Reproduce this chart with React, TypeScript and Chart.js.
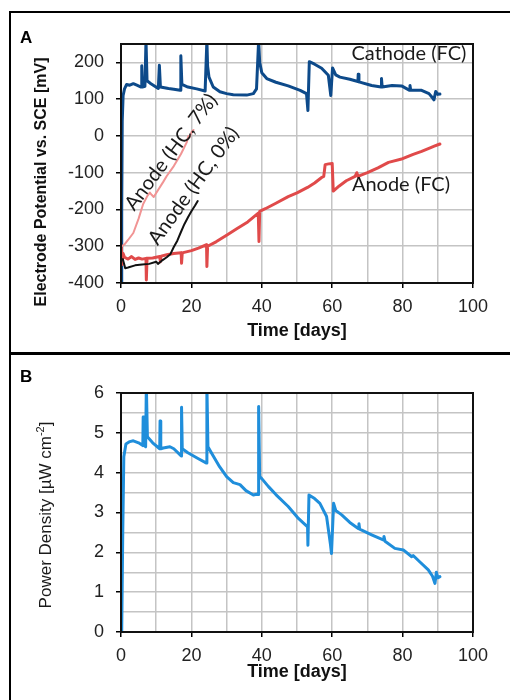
import { useEffect, useRef } from 'react';
import { Chart, registerables } from 'chart.js';

Chart.register(...registerables);

// ---------- DATA ----------
const xGridDays = [0, 10, 20, 30, 40, 50, 60, 70, 80, 90, 100];
const xTickLabels = [0, 20, 40, 60, 80, 100];
const potentialGrid = [-400, -300, -200, -100, 0, 100, 200];
const potentialTickLabels = [-400, -300, -200, -100, 0, 100, 200];
const powerGrid = [0, 0.5, 1, 1.5, 2, 2.5, 3, 3.5, 4, 4.5, 5, 5.5, 6];
const powerTickLabels = [0, 1, 2, 3, 4, 5, 6];

const cathodeDays = [0.1, 0.2, 0.35, 0.6, 1.0, 1.6, 2.5, 3.5, 4.5, 5.7, 5.9, 6.1, 6.8, 7.1, 7.4, 8.5, 10.6, 10.9, 11.2, 13.5, 15, 16.8, 17.0, 17.3, 19, 21.5, 23.9, 24.4, 24.6, 25.0, 26.2, 28.1, 30, 31.9, 35.7, 37.6, 38.5, 39.1, 39.4, 40.0, 41.4, 44, 47.5, 50.9, 52.7, 53.1, 53.5, 55, 57, 58.9, 59.6, 60.1, 61, 62.2, 65, 67.3, 67.4, 67.6, 71.2, 73.9, 74.0, 74.2, 77, 79.7, 82.0, 82.1, 82.3, 85.4, 87.5, 88.3, 88.9, 89.4, 90, 90.6];
const cathodeMv = [-400, -200, 40, 110, 128, 140, 138, 142, 138, 133, 191, 133, 135, 260, 150, 142, 129, 192, 133, 129, 127, 124, 218, 140, 133, 128, 122, 260, 190, 160, 133, 120, 115, 112, 111, 115, 128, 260, 200, 172, 156, 146, 136, 124, 115, 69, 202, 195, 184, 165, 110, 185, 166, 160, 154, 148, 168, 147, 137, 133, 156, 133, 137, 136, 124, 137, 124, 124, 115, 106, 98, 121, 113, 114];

const anodeFcDays = [0.1, 0.3, 0.6, 1, 2, 3, 4, 5, 6, 7.1, 7.2, 7.4, 9, 10, 11, 11.2, 11.4, 13, 15, 17.1, 17.2, 17.4, 20, 22, 24.3, 24.4, 24.6, 27, 30, 33, 36, 39, 39.2, 39.4, 41, 44, 47.5, 50, 53, 55, 57, 57.6, 58, 59, 60, 60.3, 62, 64, 66.5, 67, 67.3, 70, 73, 76, 80, 83, 85.4, 88, 89, 90.6];
const anodeFcMv = [-300, -350, -320, -330, -335, -328, -336, -332, -335, -333, -392, -333, -332, -330, -328, -342, -327, -323, -320, -318, -346, -318, -312, -305, -296, -355, -300, -288, -270, -252, -234, -210, -287, -205, -198, -183, -165, -155, -140, -128, -113, -110, -78, -76, -75, -150, -136, -122, -110, -100, -110, -100, -87, -72, -62, -50, -42, -32, -28, -22];

const anodeHc7Days = [0.2, 1, 2, 3.5, 5, 6.3, 7.5, 8.2, 8.7, 9.3, 10, 12, 13, 15, 17, 18.7, 19, 19.2, 19.5, 20, 20.6];
const anodeHc7Mv = [-300, -295, -283, -264, -225, -185, -163, -154, -160, -166, -155, -125, -109, -82, -50, -17, -5, 0, -4, 10, 16];

const anodeHc0Days = [0.5, 0.8, 1.2, 2, 4, 6, 8, 10, 10.5, 11.5, 13, 14, 15, 16, 17, 18, 19, 20, 21, 21.8];
const anodeHc0Mv = [-335, -345, -360, -358, -352, -350, -348, -342, -348, -340, -330, -322, -302, -285, -262, -240, -222, -205, -190, -177];

const powerDays = [0.2, 0.5, 0.8, 1.4, 2.5, 3.5, 5, 6.2, 6.3, 6.5, 7, 7.2, 7.5, 9, 11, 11.1, 11.3, 12, 13.9, 15, 17.1, 17.2, 17.4, 19, 22, 24.3, 24.4, 24.7, 26, 28, 30, 31.9, 33.8, 35.5, 37.6, 38.5, 39, 39.1, 39.4, 40, 41.9, 44, 47.5, 50.4, 53, 53.1, 53.4, 55, 56.5, 58.4, 59.5, 59.8, 60.4, 61, 62.7, 65, 67.4, 67.6, 67.8, 71.2, 74.5, 74.7, 75, 77.8, 80.2, 82.6, 83, 85, 87.3, 88.5, 89.2, 89.6, 90, 90.6];
const powerUw = [0, 2.5, 4.4, 4.72, 4.78, 4.8, 4.75, 4.68, 5.4, 4.7, 4.65, 6.2, 4.9, 4.75, 4.6, 5.3, 4.6, 4.62, 4.65, 4.6, 4.42, 5.64, 4.6, 4.5, 4.35, 4.24, 6.2, 4.65, 4.45, 4.15, 3.9, 3.75, 3.7, 3.55, 3.44, 3.46, 3.45, 5.66, 3.9, 3.85, 3.65, 3.45, 3.15, 2.85, 2.64, 2.18, 3.44, 3.35, 3.23, 2.9, 2.2, 1.97, 3.23, 3.05, 2.94, 2.75, 2.6, 2.72, 2.58, 2.44, 2.31, 2.4, 2.28, 2.1, 2.06, 1.89, 1.92, 1.75, 1.56, 1.4, 1.22, 1.5, 1.36, 1.39];

// ---------- helpers ----------
const pts = (xs: number[], ys: number[]) => xs.map((x, i) => ({ x, y: ys[i] }));

const TICK_FONT = { family: 'Liberation Sans, Arial, sans-serif', size: 18 };
const GRID = '#c4c4c4';

function xScale(height: number) {
  return {
    type: 'linear' as const,
    min: 0,
    max: 100,
    afterBuildTicks: (s: any) => {
      s.ticks = xGridDays.map((v) => ({ value: v }));
    },
    ticks: {
      autoSkip: false,
      maxRotation: 0,
      padding: 8,
      color: '#222',
      font: TICK_FONT,
      callback: (v: any) => (xTickLabels.includes(Number(v)) ? String(v) : ''),
    },
    grid: {
      display: true,
      drawOnChartArea: true,
      color: GRID,
      lineWidth: 1.5,
      tickLength: 5,
      tickWidth: 1.5,
      tickColor: (c: any) => (xTickLabels.includes(c.tick?.value) ? '#000' : 'rgba(0,0,0,0)'),
    },
    border: { display: true, color: '#000', width: 2 },
    afterFit: (s: any) => {
      s.height = height;
    },
  };
}

function yScale(min: number, max: number, grid: number[], labels: number[]) {
  return {
    type: 'linear' as const,
    min,
    max,
    afterBuildTicks: (s: any) => {
      s.ticks = grid.map((v) => ({ value: v }));
    },
    ticks: {
      autoSkip: false,
      padding: 12,
      color: '#222',
      font: TICK_FONT,
      callback: (v: any) => (labels.includes(Number(v)) ? String(v) : ''),
    },
    grid: {
      display: true,
      drawOnChartArea: true,
      color: GRID,
      lineWidth: 1.5,
      tickLength: 5,
      tickWidth: 1.5,
      tickColor: (c: any) => (labels.includes(c.tick?.value) ? '#000' : 'rgba(0,0,0,0)'),
    },
    border: { display: true, color: '#000', width: 2 },
    afterFit: (s: any) => {
      s.width = 121;
    },
  };
}

const framePlugin = {
  id: 'frame',
  afterDatasetsDraw(chart: any) {
    const { ctx, chartArea: a } = chart;
    ctx.save();
    ctx.strokeStyle = '#111';
    ctx.lineWidth = 2;
    ctx.strokeRect(a.left, a.top, a.right - a.left, a.bottom - a.top);
    ctx.restore();
  },
};

function txt(ctx: CanvasRenderingContext2D, s: string, x: number, y: number, font: string, align: CanvasTextAlign = 'center', rot = 0, color = '#1a1a1a') {
  ctx.save();
  ctx.translate(x, y);
  if (rot) ctx.rotate((rot * Math.PI) / 180);
  ctx.font = font;
  ctx.fillStyle = color;
  ctx.textAlign = align;
  ctx.textBaseline = 'middle';
  ctx.fillText(s, 0, 0);
  ctx.restore();
}

const ANNOT = '20px Lato, "Open Sans", sans-serif';

const textA = {
  id: 'textA',
  afterDraw(chart: any) {
    const { ctx, scales } = chart;
    const X = (v: number) => scales.x.getPixelForValue(v);
    const Y = (v: number) => scales.y.getPixelForValue(v);
    txt(ctx, 'A', 20, 38, 'bold 17px "Liberation Sans", Arial, sans-serif', 'left', 0, '#000');
    txt(ctx, 'Electrode Potential vs. SCE [mV]', 42, 182, 'bold 16px "Liberation Sans", Arial, sans-serif', 'center', -90, '#111');
    txt(ctx, 'Time [days]', 297, 331, 'bold 18px "Liberation Sans", Arial, sans-serif', 'center', 0, '#111');
    txt(ctx, 'Cathode (FC)', X(81.8), Y(224), ANNOT, 'center');
    txt(ctx, 'Anode (FC)', X(65.6), Y(-131), ANNOT, 'left');
    txt(ctx, 'Anode (HC, 7%)', X(14.2), Y(-44), ANNOT, 'center', -53);
    txt(ctx, 'Anode (HC, 0%)', X(20.6), Y(-136), ANNOT, 'center', -54);
  },
};

const textB = {
  id: 'textB',
  afterDraw(chart: any) {
    const { ctx } = chart;
    txt(ctx, 'B', 20, 25, 'bold 17px "Liberation Sans", Arial, sans-serif', 'left', 0, '#000');
    txt(ctx, 'Time [days]', 297, 320, 'bold 18px "Liberation Sans", Arial, sans-serif', 'center', 0, '#111');
    const main = 'Power Density [µW cm';
    const sup = '-2';
    const end = ']';
    const f1 = '17px "Liberation Sans", Arial, sans-serif';
    const f2 = '11px "Liberation Sans", Arial, sans-serif';
    ctx.save();
    ctx.translate(45, 163);
    ctx.rotate(-Math.PI / 2);
    ctx.fillStyle = '#1a1a1a';
    ctx.textBaseline = 'alphabetic';
    ctx.textAlign = 'left';
    ctx.font = f1;
    const w1 = ctx.measureText(main).width;
    const w3 = ctx.measureText(end).width;
    ctx.font = f2;
    const w2 = ctx.measureText(sup).width;
    let x0 = -(w1 + w2 + w3) / 2;
    const base = 6;
    ctx.font = f1;
    ctx.fillText(main, x0, base);
    x0 += w1;
    ctx.font = f2;
    ctx.fillText(sup, x0, base - 7);
    x0 += w2;
    ctx.font = f1;
    ctx.fillText(end, x0, base);
    ctx.restore();
  },
};

const lineDs = (label: string, data: any[], color: string, width: number) => ({
  label,
  data,
  borderColor: color,
  backgroundColor: color,
  borderWidth: width,
  pointRadius: 0,
  tension: 0,
  borderJoinStyle: 'round' as const,
  borderCapStyle: 'round' as const,
});

export default function App() {
  const refA = useRef<HTMLCanvasElement>(null);
  const refB = useRef<HTMLCanvasElement>(null);

  useEffect(() => {
    const common = {
      responsive: false,
      animation: false as const,
      plugins: { legend: { display: false }, tooltip: { enabled: false } },
    };
    const chartA = new Chart(refA.current!, {
      type: 'line',
      data: {
        datasets: [
          lineDs('Anode (HC, 0%)', pts(anodeHc0Days, anodeHc0Mv), '#111111', 2),
          lineDs('Anode (HC, 7%)', pts(anodeHc7Days, anodeHc7Mv), '#f19494', 2),
          lineDs('Anode (FC)', pts(anodeFcDays, anodeFcMv), '#e04a4a', 3),
          lineDs('Cathode (FC)', pts(cathodeDays, cathodeMv), '#0d4a8a', 3),
        ],
      },
      options: {
        ...common,
        layout: { padding: { left: 0, top: 44, right: 37, bottom: 0 } },
        scales: {
          x: xScale(69),
          y: yScale(-400, 250, potentialGrid, potentialTickLabels),
        },
      } as any,
      plugins: [framePlugin, textA],
    });
    const chartB = new Chart(refB.current!, {
      type: 'line',
      data: {
        datasets: [lineDs('Power Density', pts(powerDays, powerUw), '#1f8edb', 3)],
      },
      options: {
        ...common,
        layout: { padding: { left: 0, top: 41, right: 37, bottom: 0 } },
        scales: {
          x: xScale(68),
          y: yScale(0, 6, powerGrid, powerTickLabels),
        },
      } as any,
      plugins: [framePlugin, textB],
    });
    return () => {
      chartA.destroy();
      chartB.destroy();
    };
  }, []);

  return (
    <div style={{ position: 'absolute', left: 0, top: 0, width: 510, height: 700, overflow: 'hidden', background: '#fff' }}>
      <div style={{ position: 'absolute', left: 9, top: 11, width: 520, height: 343, border: '2px solid #000', boxSizing: 'border-box' }} />
      <div style={{ position: 'absolute', left: 9, top: 353, width: 520, height: 400, border: '2px solid #000', boxSizing: 'border-box' }} />
      <canvas ref={refA} width={510} height={352} style={{ position: 'absolute', left: 0, top: 0, width: 510, height: 352 }} />
      <canvas ref={refB} width={510} height={348} style={{ position: 'absolute', left: 0, top: 352, width: 510, height: 348 }} />
    </div>
  );
}
